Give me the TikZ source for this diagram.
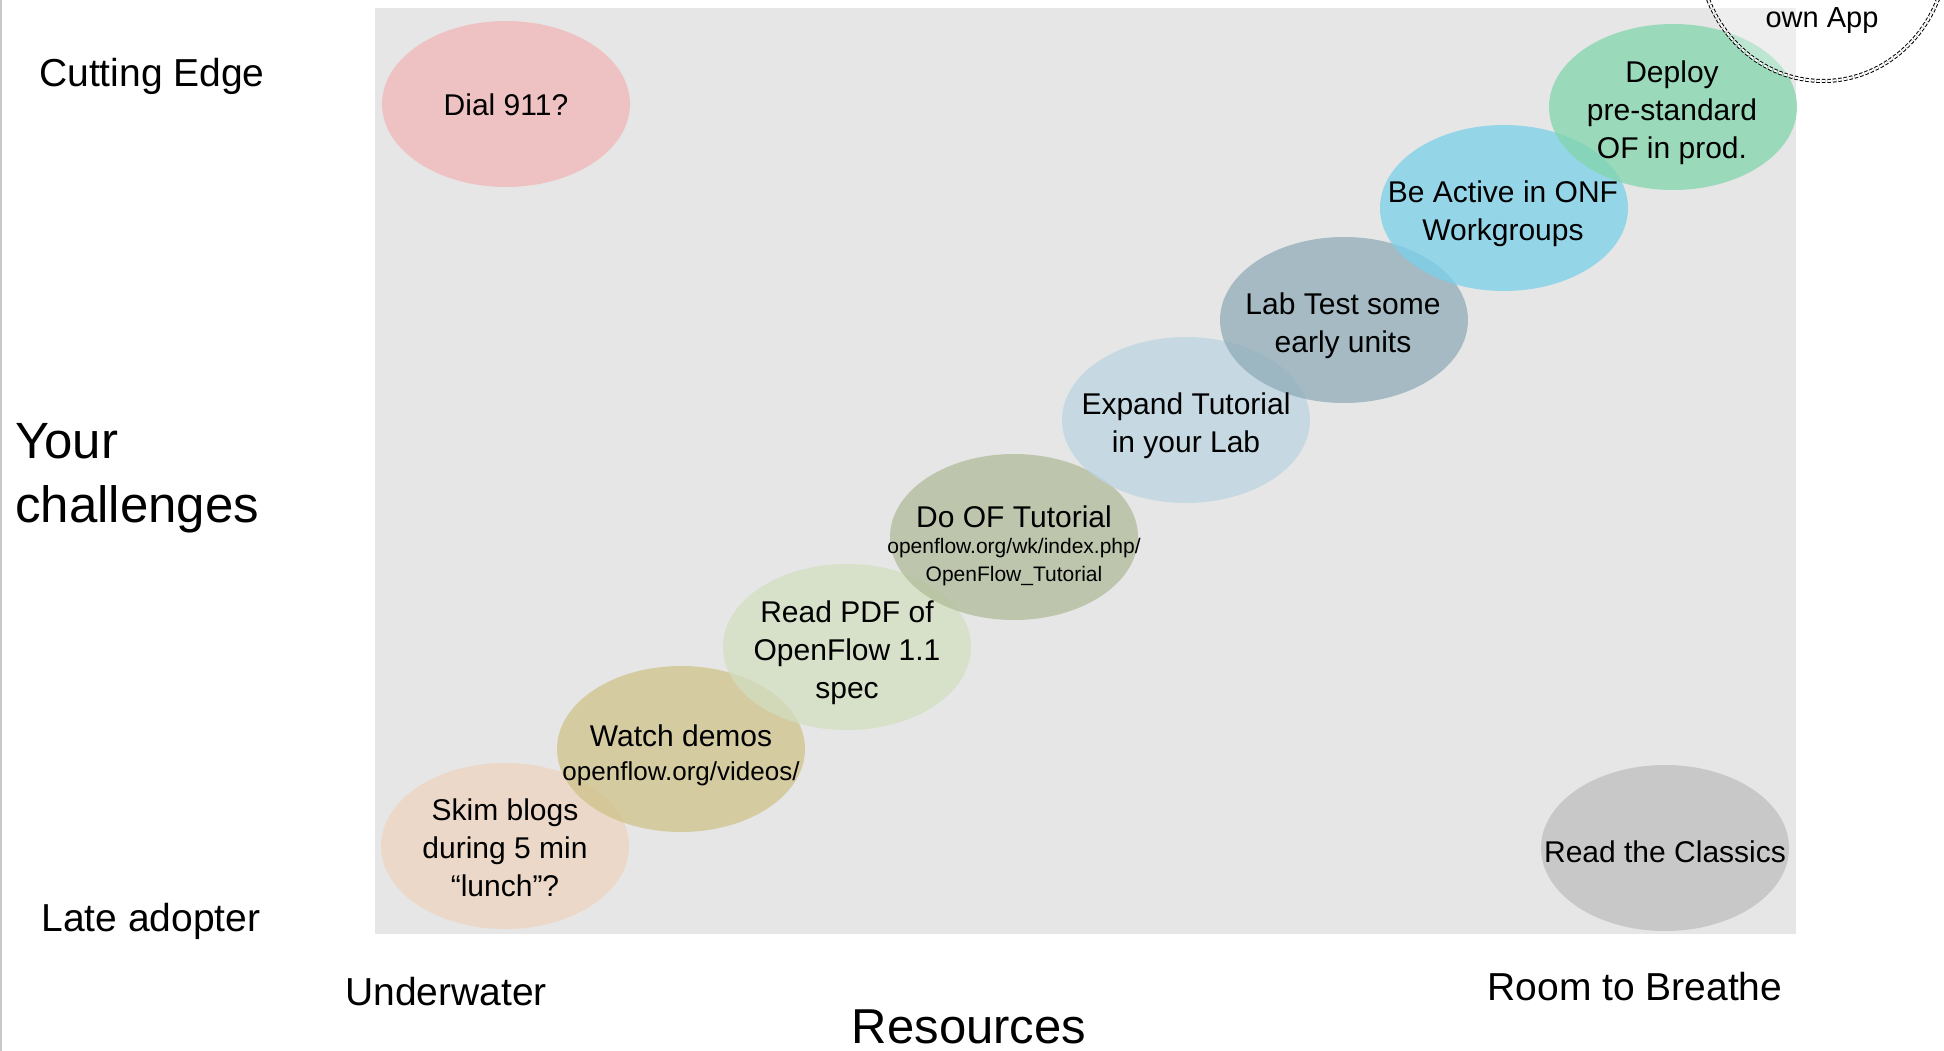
\documentclass[tikz,border=0pt]{standalone}
\usepackage{fontspec}
\setmainfont{Liberation Sans}
\usetikzlibrary{shapes.geometric}
\definecolor{bggray}{RGB}{230,230,230}
\definecolor{edgegray}{RGB}{200,200,200}
\definecolor{cdial}{RGB}{241,183,183}
\definecolor{cskim}{RGB}{238,212,190}
\definecolor{cwatch}{RGB}{208,194,138}
\definecolor{cpdf}{RGB}{210,222,192}
\definecolor{cdoof}{RGB}{176,188,154}
\definecolor{cexpand}{RGB}{188,213,225}
\definecolor{clab}{RGB}{144,172,184}
\definecolor{cactive}{RGB}{122,208,234}
\definecolor{cdeploy}{RGB}{130,213,173}
\definecolor{cclassic}{RGB}{190,190,190}
\tikzset{
  blob/.style={ellipse, minimum width=248pt, minimum height=166pt, inner sep=0pt, draw=none, fill opacity=0.75},
  txt/.style={align=center, inner sep=0pt, text=black, font=\fontsize{30}{38}\selectfont},
  axlab/.style={inner sep=0pt, text=black, font=\fontsize{39}{46}\selectfont},
}
\newcommand{\urlbig}{\fontsize{26}{32}\selectfont}
\newcommand{\urlsmall}{\fontsize{21}{27}\selectfont}
\begin{document}
\begin{tikzpicture}[x=1pt,y=-1pt]
\useasboundingbox (0,0) rectangle (1944,1051);
\fill[white] (0,0) rectangle (1944,1051);
% left edge line
\fill[edgegray] (0,0) rectangle (2,1051);
% grey field
\fill[bggray] (375,8) rectangle (1796,934);

% ellipses
\node[blob, fill=cdial]    (dial)    at (506,104) {};
\node[blob, fill=cskim]    (skim)    at (505,846) {};
\node[blob, fill=cwatch]   (watch)   at (681,749) {};
\node[blob, fill=cpdf]     (pdf)     at (847,647) {};
\node[blob, fill=cdoof]    (doof)    at (1014,537) {};
\node[blob, fill=cexpand]  (expand)  at (1186,420) {};
\node[blob, fill=clab]     (labt)    at (1344,320) {};
\node[blob, fill=cactive]  (active)  at (1504,208) {};
\node[blob, fill=cdeploy]  (deploy)  at (1673,107) {};
\node[blob, fill=cclassic] (classic) at (1665,848) {};

% own App circle
\begin{scope}
\clip (0,0) rectangle (1944,1051);
\coordinate (appc) at (1823,-50);
\path[fill=white, fill opacity=0.35] (appc) ellipse [x radius=124, y radius=131];
\draw[black, line width=1pt, double=white, double distance=2pt, dash pattern=on 3.5pt off 2pt] (appc) ellipse [x radius=124, y radius=131];
\node[txt, font=\fontsize{29}{35}\selectfont] (ownapp) at (1822,21) {own App};
\end{scope}

% ellipse texts
\node[txt] (tdial) at (506,105) {Dial 911?};
\node[txt] (tskim) at (505,848) {Skim blogs\\during 5 min\\“lunch”?};
\node[txt] (twatch) at (681,755) {Watch demos\\[-4pt]\urlbig openflow.org/videos/};
\node[txt] (tpdf) at (847,653) {Read PDF of\\OpenFlow 1.1\\spec};
\node[txt] (tdoof) at (1014,546) {Do OF Tutorial\\[-12pt]\urlsmall openflow.org/wk/index.php/\\[-10pt]\urlsmall OpenFlow\_Tutorial};
\node[txt] (texpand) at (1186,426) {Expand Tutorial\\in your Lab};
\node[txt] (tlab) at (1343,326) {Lab Test some\\early units};
\node[txt] (tactive) at (1503,214) {Be Active in ONF\\Workgroups};
\node[txt] (tdeploy) at (1672,113) {Deploy\\pre-standard\\OF in prod.};
\node[txt] (tclassic) at (1665,852) {Read the Classics};

% axis labels
\node[axlab] (cutting) at (152,76) {Cutting Edge};
\node[axlab] (late) at (151,921) {Late adopter};
\node[axlab, anchor=west, align=left, font=\fontsize{51}{64}\selectfont] (chal) at (15,478) {Your\\challenges};
\node[axlab] (under) at (446,992) {Underwater};
\node[axlab] (room) at (1635,987) {Room to Breathe};
\node[axlab, font=\fontsize{49}{58}\selectfont] (res) at (969,1027) {Resources};
\end{tikzpicture}
\end{document}
